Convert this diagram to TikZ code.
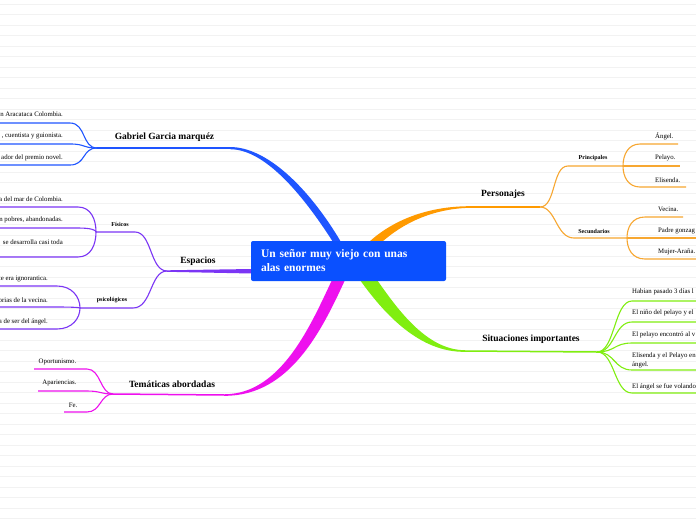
\documentclass[tikz,border=0pt]{standalone}
\usepackage{fontspec}
\setmainfont{Liberation Serif}
\usetikzlibrary{positioning, calc}

\definecolor{zentrumblau}{HTML}{0A50FF}
\definecolor{astblau}{HTML}{1F55FF}
\definecolor{astlila}{HTML}{7B35F5}
\definecolor{astorange}{HTML}{FF9A00}
\definecolor{zweigorange}{HTML}{F7A731}
\definecolor{astgruen}{HTML}{80EE10}
\definecolor{astmagenta}{HTML}{EE10EE}

\begin{document}
\begin{tikzpicture}[
            x=1pt, y=-1pt,
            zentrum/.style={
                    fill=zentrumblau,
                    rounded corners=2pt,
                    minimum width=195pt,
                    minimum height=40pt,
                    text width=175pt,
                    inner sep=0pt,
                    align=left,
                    text=white,
                    font=\fontsize{11.5}{14}\selectfont\bfseries
                },
            thema/.style={
                    inner sep=0pt,
                    font=\fontsize{9.5}{11}\selectfont\bfseries
                },
            gruppe/.style={
                    inner sep=0pt,
                    font=\fontsize{6}{7}\selectfont\bfseries
                },
            blatt/.style={
                    inner sep=0pt,
                    align=left,
                    font=\fontsize{6.8}{9}\selectfont
                },
            ast/.style={line width=1.5pt},
            zweig/.style={line width=1.1pt},
            papier/.style={draw=black!5, line width=0.6pt}
        ]

        \useasboundingbox (0,0) rectangle (696,520);
        \clip (0,0) rectangle (696,520);
        \fill[white] (0,0) rectangle (696,520);
        \foreach \y in {4,14.5,...,520}
            \draw[papier] (0,\y) -- (696,\y);

        % tapered main branches
        \fill[astblau] (230,147) .. controls (267,147) and (309,188) .. (341,242)
            -- (333,242) .. controls (301,192) and (264,149.2) .. (230,149.2) -- cycle;
        \fill[astorange] (369,242) .. controls (393,220) and (428,206.2) .. (470,206.2)
            -- (470,207.8) .. controls (432,208.6) and (402,224) .. (382,242) -- cycle;
        \fill[astgruen] (377,280) .. controls (395,305) and (425,350.2) .. (465,350.2)
            -- (465,351.8) .. controls (420,352.5) and (385,315) .. (360,280) -- cycle;
        \fill[astmagenta] (345,280) .. controls (322,330) and (290,395.8) .. (225,395.8)
            -- (225,394.2) .. controls (282,394) and (312,322) .. (332,280) -- cycle;
        \fill[astlila] (167,270.3) -- (252,269) -- (252,273.5) -- (167,271.8) -- cycle;

        \node[zentrum] (titel) at (348.5,261) {Un señor muy viejo con unas\\alas enormes};

        % Gabriel Garcia marquez
        \coordinate (gab) at (230,148);
        \coordinate (gabast) at (97,148);
        \draw[astblau, ast] (gab) -- (gabast);
        \node[thema] (gabriel) at (164.5,137) {Gabriel Garcia marquéz};
        \foreach \ly/\ty/\txt [count=\i] in {123/114/{n Aracataca Colombia.},
                144/136/{, cuentista y guionista.}, 165/158/{ador del premio novel.}} {
            \coordinate (gabende\i) at (0,\ly);
            \draw[astblau, zweig] (gabast) .. controls (82,148) and (86,\ly) .. (70,\ly) -- (gabende\i);
            \node[blatt, anchor=east] (gabtext\i) at (63,\ty) {\txt};
        }

        % Espacios
        \coordinate (esp) at (167,271);
        \node[thema] (espacios) at (198,261) {Espacios};
        \coordinate (fis) at (96,232);
        \coordinate (psi) at (80,308);
        \draw[astlila, zweig] (esp) .. controls (150,271) and (152,232) .. (135,232) -- (fis);
        \draw[astlila, zweig] (esp) .. controls (150,271) and (152,308) .. (133,308) -- (psi);
        \node[gruppe] (fisicos) at (120,224) {Físicos};
        \node[gruppe] (psicologicos) at (112,300) {psicológicos};
        \foreach \ly/\ty/\txt [count=\i] in {207/199/{a del mar de Colombia.},
                228/220/{n pobres, abandonadas.}, 257/242/{se desarrolla casi toda}} {
            \coordinate (fisende\i) at (0,\ly);
            \draw[astlila, zweig] (fis) .. controls (96,{(\ly+232)/2}) and (91,\ly) .. (78,\ly) -- (fisende\i);
            \node[blatt, anchor=east] (fistext\i) at (63,\ty) {\txt};
        }
        \foreach \ly/\ty/\txt [count=\i] in {286/279/{te era ignorantica.},
                307/300/{orias de la vecina.}, 329/322/{a de ser del ángel.}} {
            \coordinate (psiende\i) at (0,\ly);
            \draw[astlila, zweig] (psi) .. controls (80,{(\ly+308)/2}) and (72,\ly) .. (57,\ly) -- (psiende\i);
            \node[blatt, anchor=east] (psitext\i) at (48,\ty) {\txt};
        }

        % Tematicas abordadas
        \coordinate (tem) at (225,395);
        \coordinate (temast) at (113,394);
        \draw[astmagenta, ast] (tem) -- (temast);
        \node[thema] (tematicas) at (172,384) {Temáticas abordadas};
        \foreach \ly/\ex/\tx/\ty/\txt [count=\i] in {369/34/57.5/362/{Oportunismo.},
                391/38/59.5/383/{Apariencias.}, 412/64/73/405/{Fe.}} {
            \coordinate (temende\i) at (\ex,\ly);
            \draw[astmagenta, zweig] (temast) .. controls (100,394) and (101,\ly) .. (87,\ly) -- (temende\i);
            \node[blatt] (temtext\i) at (\tx,\ty) {\txt};
        }

        % Personajes
        \coordinate (per) at (470,207);
        \coordinate (perast) at (540,207);
        \draw[astorange, ast] (per) -- (perast);
        \node[thema] (personajes) at (503,194) {Personajes};
        \coordinate (pri) at (623,166);
        \coordinate (sec) at (627,238);
        \draw[zweigorange, zweig] (perast) .. controls (556,207) and (552,166) .. (568,166) -- (pri);
        \draw[zweigorange, zweig] (perast) .. controls (556,207) and (556,238) .. (574,238) -- (sec);
        \node[gruppe] (principales) at (593,158) {Principales};
        \node[gruppe] (secundarios) at (594,231) {Secundarios};
        \foreach \ly/\ex/\ty/\txt [count=\i] in {144/678/136/{Ángel.},
                166/680/158/{Pelayo.}, 187/686/180/{Elisenda.}} {
            \coordinate (priende\i) at (\ex,\ly);
            \draw[zweigorange, zweig] (pri) .. controls (623,{(\ly+166)/2}) and (628,\ly) .. (640,\ly) -- (priende\i);
            \node[blatt, anchor=west] (pritext\i) at (655,\ty) {\txt};
        }
        \foreach \ly/\ex/\ty/\txt [count=\i] in {217/683/209/{Vecina.},
                238/700/231/{Padre gonzag}, 259/700/252/{Mujer-Araña.}} {
            \coordinate (secende\i) at (\ex,\ly);
            \draw[zweigorange, zweig] (sec) .. controls (627,{(\ly+238)/2}) and (632,\ly) .. (645,\ly) -- (secende\i);
            \node[blatt, anchor=west] (sectext\i) at (658,\ty) {\txt};
        }

        % Situaciones importantes
        \coordinate (sit) at (465,351);
        \coordinate (sitast) at (597,352);
        \draw[astgruen, ast] (sit) -- (sitast);
        \node[thema] (situaciones) at (531,339) {Situaciones importantes};
        \foreach \ly/\ty/\txt [count=\i] in {301/292/{Habian pasado 3 días l},
                322/313/{El niño del pelayo y el}, 343/335/{El pelayo encontró al v},
                370/360.5/{Elisenda y el Pelayo en\\ángel.}, 393/387/{El ángel se fue volando}} {
            \coordinate (sitende\i) at (700,\ly);
            \draw[astgruen, zweig] (sitast) .. controls (615,352) and (614,\ly) .. (632,\ly) -- (sitende\i);
            \node[blatt, anchor=west] (sittext\i) at (632,\ty) {\txt};
        }

    \end{tikzpicture}
\end{document}
